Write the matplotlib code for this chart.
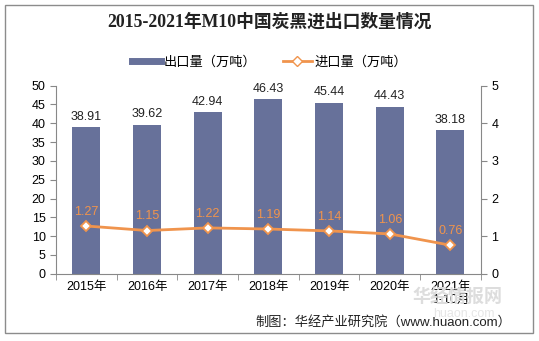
import matplotlib.pyplot as plt
import numpy as np
from matplotlib.patches import Rectangle
from matplotlib.lines import Line2D

plt.rcParams['font.family'] = ['Liberation Sans', 'Noto Sans CJK SC']

years = ['2015年', '2016年', '2017年', '2018年', '2019年', '2020年', '2021年\n1-10月']
exports = [38.91, 39.62, 42.94, 46.43, 45.44, 44.43, 38.18]
imports = [1.27, 1.15, 1.22, 1.19, 1.14, 1.06, 0.76]

bar_color = '#67719A'
line_color = '#F0944D'

fig = plt.figure(figsize=(5.39, 3.41), dpi=100)
fig.patches.append(Rectangle((0.01, 0.023), 0.978, 0.962, transform=fig.transFigure,
                             fill=False, edgecolor='#8c8c8c', linewidth=1))

ax = fig.add_axes([0.104, 0.197, 0.788, 0.552])
x = np.arange(len(years))
ax.bar(x, exports, width=0.46, color=bar_color, zorder=2)
for xi, v in zip(x, exports):
    ax.text(xi, v + 1.2, f'{v:.2f}', ha='center', va='bottom', fontsize=9, color='#222222')

ax.set_xlim(-0.5, len(years) - 0.5)
ax.set_ylim(0, 50)
ax.set_yticks(np.arange(0, 51, 5))
ax.set_xticks(x)
ax.set_xticklabels(years, fontsize=9, linespacing=1.1)
ax.set_xticks(np.arange(-0.5, len(years)), minor=True)
ax.tick_params(axis='x', which='major', length=0, pad=5)
ax.tick_params(axis='x', which='minor', length=4, color='#888888')
ax.tick_params(axis='y', labelsize=9, length=4, color='#888888')
for s in ['top', 'right']:
    ax.spines[s].set_visible(False)
for s in ['left', 'bottom']:
    ax.spines[s].set_color('#888888')

ax2 = ax.twinx()
ax2.plot(x, imports, color=line_color, linewidth=2, marker='D', markersize=5,
         markerfacecolor='white', markeredgecolor=line_color, markeredgewidth=1.3, zorder=3)
for xi, v in zip(x, imports):
    ax2.text(xi, v + 0.22, f'{v:.2f}', ha='center', va='bottom', fontsize=9, color=line_color)
ax2.set_ylim(0, 5)
ax2.set_yticks(np.arange(0, 6, 1))
ax2.tick_params(axis='y', labelsize=9, length=4, color='#888888')
for s in ['top', 'left']:
    ax2.spines[s].set_visible(False)
ax2.spines['right'].set_color('#888888')
ax2.spines['bottom'].set_visible(False)

fig.text(0.5, 0.935, '2015-2021年M10中国炭黑进出口数量情况', ha='center', va='center',
         fontsize=12.8, fontweight='bold', color='#222222',
         family=['Liberation Serif', 'Noto Sans CJK SC'])

handles = [Line2D([0], [0], color=bar_color, linewidth=5),
           Line2D([0], [0], color=line_color, linewidth=2, marker='D', markersize=5,
                  markerfacecolor='white', markeredgecolor=line_color)]
fig.legend(handles, ['出口量（万吨）', '进口量（万吨）'], loc='center', ncol=2,
           bbox_to_anchor=(0.5, 0.818), frameon=False, fontsize=9.5,
           handlelength=2.2, columnspacing=2.0, handletextpad=0.2)

# watermark
fig.text(0.848, 0.128, '华经情报网', ha='center', va='center', fontsize=13,
         fontweight='bold', color='#dddddd', zorder=0)
fig.text(0.86, 0.08, 'huaon.com', ha='center', va='center', fontsize=9,
         color='#e6e6e6', zorder=0)

fig.text(0.948, 0.056, '制图：华经产业研究院（www.huaon.com）', ha='right', va='center',
         fontsize=9.5, color='#222222')

fig.savefig('out.png', dpi=100)
